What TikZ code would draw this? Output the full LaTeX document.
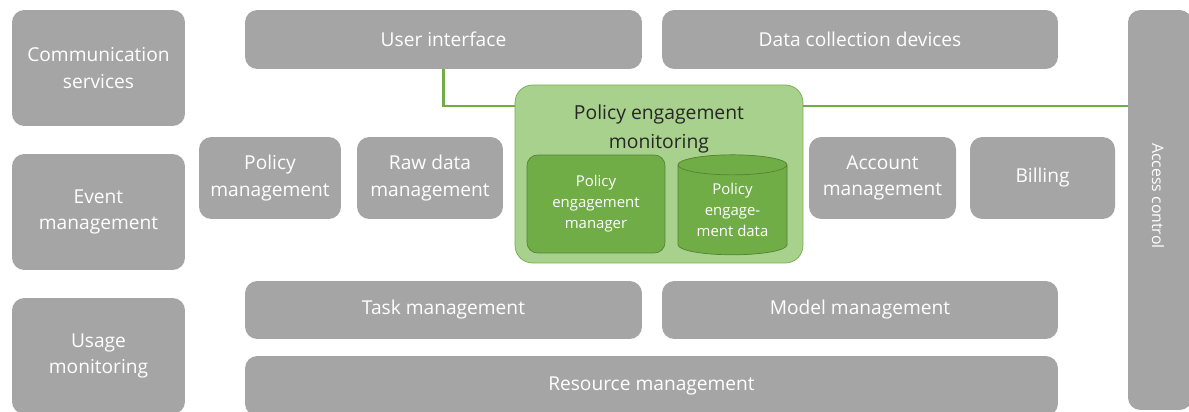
\documentclass[tikz,border=0pt]{standalone}
\usepackage{fontspec}
\setmainfont{Open Sans}
\usepackage{xcolor}
\usetikzlibrary{shapes.geometric}
\definecolor{boxgray}{HTML}{A5A5A5}
\definecolor{pemfill}{HTML}{A9D18E}
\definecolor{pemline}{HTML}{70AD47}
\definecolor{mgrfill}{HTML}{70AD47}
\definecolor{mgrline}{HTML}{548235}
\definecolor{titletext}{HTML}{262626}

\begin{document}
\begin{tikzpicture}[x=0.02cm, y=-0.02cm,
    font=\fontsize{10.9}{15}\selectfont,
    block/.style={fill=boxgray, text=white, rounded corners=7pt, align=center, inner sep=0pt},
    inner/.style={fill=mgrfill, draw=mgrline, text=white, align=center, inner sep=0pt,
      font=\fontsize{8.5}{12}\selectfont},
    link/.style={draw=pemline, line width=1.2pt}]
  \useasboundingbox (0,0) rectangle (1189,412);

  % left column
  \node[block, minimum width=3.46cm, minimum height=2.32cm] (comm) at (98.5,68) {Communication\\services};
  \node[block, minimum width=3.46cm, minimum height=2.32cm] (event) at (98.5,212) {Event\\management};
  \node[block, minimum width=3.46cm, minimum height=2.32cm] (usage) at (98.5,356) {Usage\\monitoring};

  % top row
  \node[block, minimum width=7.94cm, minimum height=1.18cm] (ui) at (443.5,39.5) {User interface};
  \node[block, minimum width=7.92cm, minimum height=1.18cm] (dcd) at (860,39.5) {Data collection devices};

  % middle row
  \node[block, minimum width=2.84cm, minimum height=1.64cm] (polman) at (270,178) {Policy\\management};
  \node[block, minimum width=2.92cm, minimum height=1.64cm] (rawdata) at (430,178) {Raw data\\management};
  \node[block, minimum width=2.94cm, minimum height=1.64cm] (acct) at (882.5,178) {Account\\management};
  \node[block, minimum width=2.90cm, minimum height=1.64cm] (billing) at (1042.5,178) {Billing};

  % bottom rows
  \node[block, minimum width=7.94cm, minimum height=1.16cm] (task) at (443.5,310) {Task management};
  \node[block, minimum width=7.92cm, minimum height=1.16cm] (model) at (860,310) {Model management};
  \node[block, minimum width=16.26cm, minimum height=1.2cm] (resource) at (651.5,386) {Resource management};

  % right column
  \node[block, minimum width=1.28cm, minimum height=8.0cm] (access) at (1160,210) {};
  \node[text=white, rotate=-90, font=\fontsize{9}{11}\selectfont] (accesstext) at (1158,196) {Access control};

  % link through the monitoring block
  \coordinate (linkrow) at (0,106);
  \draw[link] (ui.south) |- (access.west |- linkrow);

  % policy engagement monitoring
  \node[fill=pemfill, draw=pemline, rounded corners=10pt, minimum width=5.76cm, minimum height=3.56cm] (pem) at (659,174) {};
  \node[text=titletext, align=center, font=\fontsize{11}{16}\selectfont] (pemtitle) at (659,129) {Policy engagement\\monitoring};
  \node[inner, rounded corners=6pt, minimum width=2.76cm, minimum height=1.96cm] (pemgr) at (596,204) {Policy\\engagement\\manager};
  \node[inner, cylinder, shape border rotate=90, aspect=0.28, cylinder uses custom fill,
    cylinder body fill=mgrfill, cylinder end fill=mgrfill,
    minimum width=2.18cm, minimum height=2.0cm] (pedata) at (732.5,210) {Policy\\engage-\\ment data};
\end{tikzpicture}
\end{document}
